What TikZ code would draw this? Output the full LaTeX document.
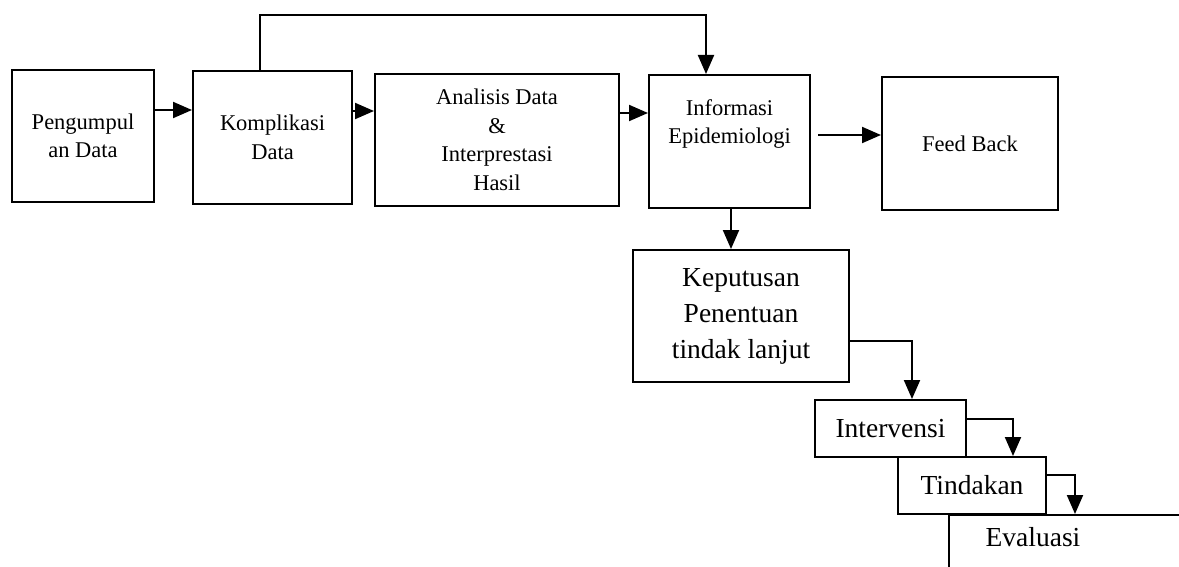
\documentclass[tikz,border=0pt]{standalone}
\usepackage{fontspec}
\setmainfont{Liberation Serif}
\usetikzlibrary{arrows.meta,calc}
\begin{document}
\begin{tikzpicture}[x=1pt,y=-1pt,
  box/.style={draw, line width=2pt, rectangle, inner sep=0pt, align=center},
  small/.style={font=\fontsize{22.5}{28.5}\selectfont},
  big/.style={font=\fontsize{27.5}{36}\selectfont},
  arr/.style={line width=2pt, -{Triangle[length=19pt,width=16pt]}}]
\useasboundingbox (0,0) rectangle (1179,567);
\clip (0,0) rectangle (1179,567);

% top row of process boxes
\node[box, small, minimum width=142pt, minimum height=132pt] (pen)  at (83,136)    {Pengumpul\\an Data};
\node[box, small, minimum width=159pt, minimum height=133pt] (komp) at (272.5,137.5) {Komplikasi\\Data};
\node[box, small, minimum width=244pt, minimum height=132pt] (anal) at (497,140)   {Analisis Data\\\&\\Interprestasi\\Hasil};
\node[box, minimum width=161pt, minimum height=133pt] (info) at (729.5,141.5) {};
\node[small, align=center] (infotxt) at (729.5,124) {Informasi\\Epidemiologi};
\node[box, small, minimum width=176pt, minimum height=133pt] (fb) at (970,143.5) {Feed Back};

% follow-up chain
\node[box, big, minimum width=216pt, minimum height=132pt] (kep) at (741,316) {Keputusan\\Penentuan\\tindak lanjut};
\node[box, big, minimum width=151pt, minimum height=57pt] (interv) at (890.5,428.5) {Intervensi};
\node[box, big, minimum width=148pt, minimum height=57pt] (tind) at (972,485.5) {Tindakan};
\node[box, minimum width=352pt, minimum height=136pt, anchor=north west] (eval) at (948,514) {};
\node[big] (evaltxt) at (1033,537) {Evaluasi};

% connectors
\coordinate (top) at (706,15);
\draw[arr] ([yshift=26pt]pen.east) -- ([yshift=26pt]pen.east -| komp.west);
\draw[arr] ([yshift=26.5pt]komp.east) -- ([yshift=26.5pt]komp.east -| anal.west);
\draw[arr] ([yshift=27pt]anal.east) -- ([yshift=27pt]anal.east -| info.west);
\draw[arr, shorten <=7pt] ([yshift=6.5pt]info.east) -- ([yshift=6.5pt]info.east -| fb.west);
\draw[arr] ([xshift=-12.5pt]komp.north) |- (top) -- (top |- info.north);
\draw[arr] ([xshift=1.5pt]info.south) -- ([xshift=1.5pt]info.south |- kep.north);
\draw[arr] ([yshift=-25pt]kep.east) -| ([xshift=21.5pt]interv.north);
\draw[arr] ([yshift=9.5pt]interv.east) -| ([xshift=41pt]tind.north);
\draw[arr] ([yshift=10.5pt]tind.east) -| ([xshift=127pt]eval.north west);
\end{tikzpicture}
\end{document}
